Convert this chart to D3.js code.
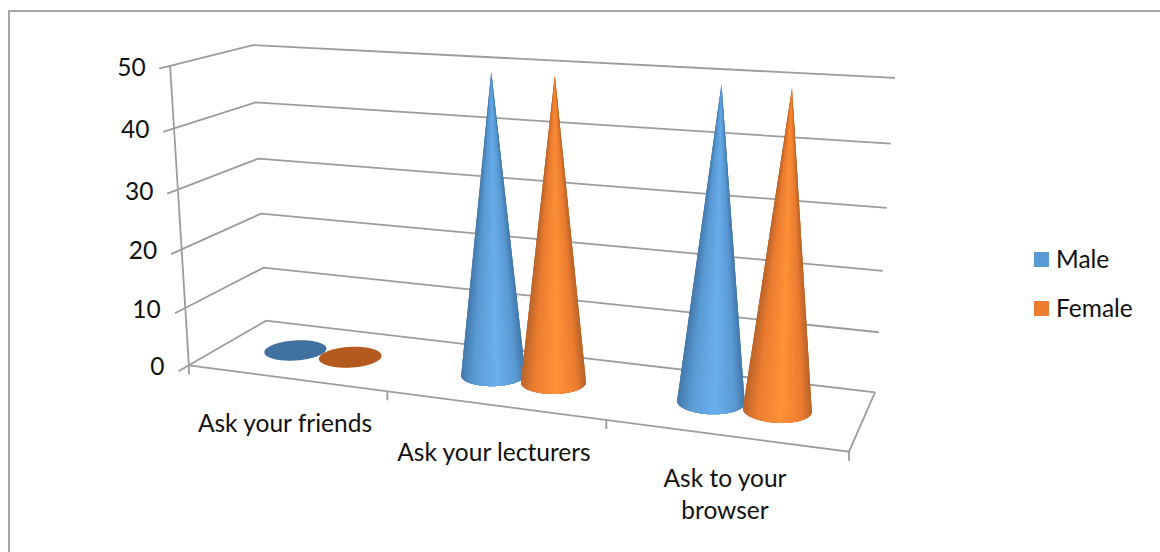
<!DOCTYPE html>
<html>
<head>
<meta charset="utf-8">
<script src="https://cdn.jsdelivr.net/npm/d3@7"></script>
<style>
  html, body { margin: 0; background: #fff; }
  svg { display: block; }
  text { font-family: Lato, "Open Sans", sans-serif; fill: #111; }
</style>
</head>
<body>
<svg id="chart" width="1160" height="552"></svg>
<script>
// Chart values
const categories = ["Ask your friends", "Ask your lecturers", "Ask to your browser"];
const seriesNames = ["Male", "Female"];
const maleValues = [0, 49.7, 49.7];
const femaleValues = [0, 49.7, 49.7];
const valueTicks = [0, 10, 20, 30, 40, 50];

const seriesValues = { Male: maleValues, Female: femaleValues };
const seriesRamp = {
  Male:   { edge: "#467aad", mid: "#6ab0ee", base: "#41719f", key: "#5b9bd5" },
  Female: { edge: "#bb662c", mid: "#ff9238", base: "#b45a1e", key: "#ed7d31" }
};

// Camera calibration: how the corners of the plot box land on the page.
// Each entry is [across, depth, height, pageX, pageY].
const boxCorners = [
  [0, 0, 0, 189, 365],
  [1, 0, 0, 849, 452],
  [0, 1, 0, 266, 321],
  [1, 1, 0, 875, 392],
  [0, 0, 1, 170, 66],
  [0, 1, 1, 253, 45],
  [1, 1, 1, 895, 78]
];

// Least-squares fit of a 3x4 projective camera with its last entry fixed at 1.
function fitCamera(points) {
  const rows = [];
  for (const [a, d, h, X, Y] of points) {
    rows.push([a, d, h, 1, 0, 0, 0, 0, -X * a, -X * d, -X * h, X]);
    rows.push([0, 0, 0, 0, a, d, h, 1, -Y * a, -Y * d, -Y * h, Y]);
  }
  const n = 11;
  const m = d3.range(n).map(i => d3.range(n + 1).map(j =>
    d3.sum(rows, r => r[i] * r[j])));
  for (let c = 0; c < n; c++) {
    let p = c;
    for (let r = c + 1; r < n; r++) if (Math.abs(m[r][c]) > Math.abs(m[p][c])) p = r;
    [m[c], m[p]] = [m[p], m[c]];
    for (let r = 0; r < n; r++) {
      if (r === c) continue;
      const f = m[r][c] / m[c][c];
      for (let k = c; k <= n; k++) m[r][k] -= f * m[c][k];
    }
  }
  return d3.range(n).map(i => m[i][n] / m[i][i]);
}
const cam = fitCamera(boxCorners);
function project(a, d, h) {
  const w = cam[8] * a + cam[9] * d + cam[10] * h + 1;
  return [
    (cam[0] * a + cam[1] * d + cam[2] * h + cam[3]) / w,
    (cam[4] * a + cam[5] * d + cam[6] * h + cam[7]) / w
  ];
}

// Scales working in the box's own unit coordinates
const x0 = d3.scaleBand().domain(categories).range([0, 1]);
const x1 = d3.scaleBand().domain(seriesNames).range([0.0712, 0.2622]);
const y = d3.scaleLinear().domain([0, 50]).range([0, 1]);
const coneDepth = 0.5;
const coneDepthRadius = 0.21;

const svg = d3.select("#chart");
const line = d3.line();
const gridColor = "#9c9c9c";

// Chart frame: only the top and left edges are ruled
svg.append("path")
  .attr("d", line([[9, 552], [9, 11], [1160, 11]]))
  .attr("fill", "none").attr("stroke", "#a6a6a6").attr("stroke-width", 2);

const frame = svg.append("g").attr("fill", "none").attr("stroke", gridColor).attr("stroke-width", 1.8);
const seg = pts => frame.append("path").attr("d", line(pts));

// Gridlines along the side wall and back wall, with ticks on the value axis
for (const v of valueTicks) {
  const h = y(v);
  seg([project(0, -0.12, h), project(0, 0, h), project(0, 1, h), project(1, 1, h)]);
}
// Value axis and the floor outline
seg([project(0, 0, 0), project(0, 0, 1)]);
seg([project(0, 0, 0), project(1, 0, 0), project(1, 1, 0)]);

// Category ticks along the front edge of the floor
for (const a of [0, 1, 2, 3].map(i => i / 3)) {
  const p = project(a, 0, 0);
  seg([p, [p[0], p[1] + 9]]);
}

// Cones: a base disc, then shaded facets swept left to right over the visible front of the rim
const rimSteps = 240;
function drawCone(group, catIndex, name) {
  const ramp = seriesRamp[name];
  const value = seriesValues[name][catIndex];
  const ca = x0(categories[catIndex]) + x1(name) + x1.bandwidth() / 2;
  const ra = x1.bandwidth() / 2;
  const rim = d3.range(rimSteps).map(i => {
    const t = (i / rimSteps) * 2 * Math.PI;
    return project(ca + ra * Math.cos(t), coneDepth + coneDepthRadius * Math.sin(t), 0);
  });
  group.append("path").attr("d", line(rim) + "Z").attr("fill", ramp.base);
  if (value <= 0) return;

  const apex = project(ca, coneDepth, y(value));
  const left = d3.least(rim, p => p[0]);
  const right = d3.greatest(rim, p => p[0]);
  const [xMin, xMax] = [left[0], right[0]];
  const span = xMax - xMin;
  const tone = d3.scaleLinear()
    .domain([xMin, xMin + span * 0.2, xMin + span * 0.56, xMin + span * 0.86, xMax])
    .range([ramp.edge, ramp.key, ramp.mid, ramp.key, ramp.edge])
    .interpolate(d3.interpolateRgb);
  const chordY = x => left[1] + (right[1] - left[1]) * (x - xMin) / span;
  const front = rim.filter(p => p[1] >= chordY(p[0]) || p === left || p === right)
    .sort((p, q) => d3.ascending(p[0], q[0]));

  group.append("path")
    .attr("d", line(d3.polygonHull([...rim, apex])) + "Z")
    .attr("fill", ramp.edge);
  front.slice(0, -1).forEach((p, i) => {
    const q = front[Math.min(i + 2, front.length - 1)];
    group.append("path")
      .attr("d", line([apex, p, q]) + "Z")
      .attr("fill", tone((p[0] + q[0]) / 2));
  });
}
const cones = svg.append("g");
categories.forEach((c, i) => seriesNames.forEach(s => drawCone(cones, i, s)));

// Value axis labels
const fontSize = 24.5;
svg.append("g").selectAll("text").data(valueTicks).join("text")
  .attr("x", v => project(0, 0, y(v))[0] - 24.5)
  .attr("y", v => project(0, 0, y(v))[1] + 10)
  .attr("text-anchor", "end")
  .style("font-size", fontSize + "px")
  .text(d => d);

// Category labels, wrapped on explicit line breaks
const categoryLines = [["Ask your friends"], ["Ask your lecturers"], ["Ask to your", "browser"]];
const labelAnchors = [[285, 432], [494, 461], [725, 487]];
categoryLines.forEach((lines, i) => {
  lines.forEach((t, j) => {
    svg.append("text")
      .attr("x", labelAnchors[i][0])
      .attr("y", labelAnchors[i][1] + j * 31.5)
      .attr("text-anchor", "middle")
      .style("font-size", fontSize + "px")
      .text(t);
  });
});

// Legend
const legend = svg.append("g").selectAll("g").data(seriesNames).join("g")
  .attr("transform", (d, i) => `translate(1034,${252 + i * 49})`);
legend.append("rect").attr("width", 15).attr("height", 15).attr("fill", d => seriesRamp[d].key);
legend.append("text").attr("x", 22).attr("y", 16).style("font-size", fontSize + "px").text(d => d);
</script>
</body>
</html>
